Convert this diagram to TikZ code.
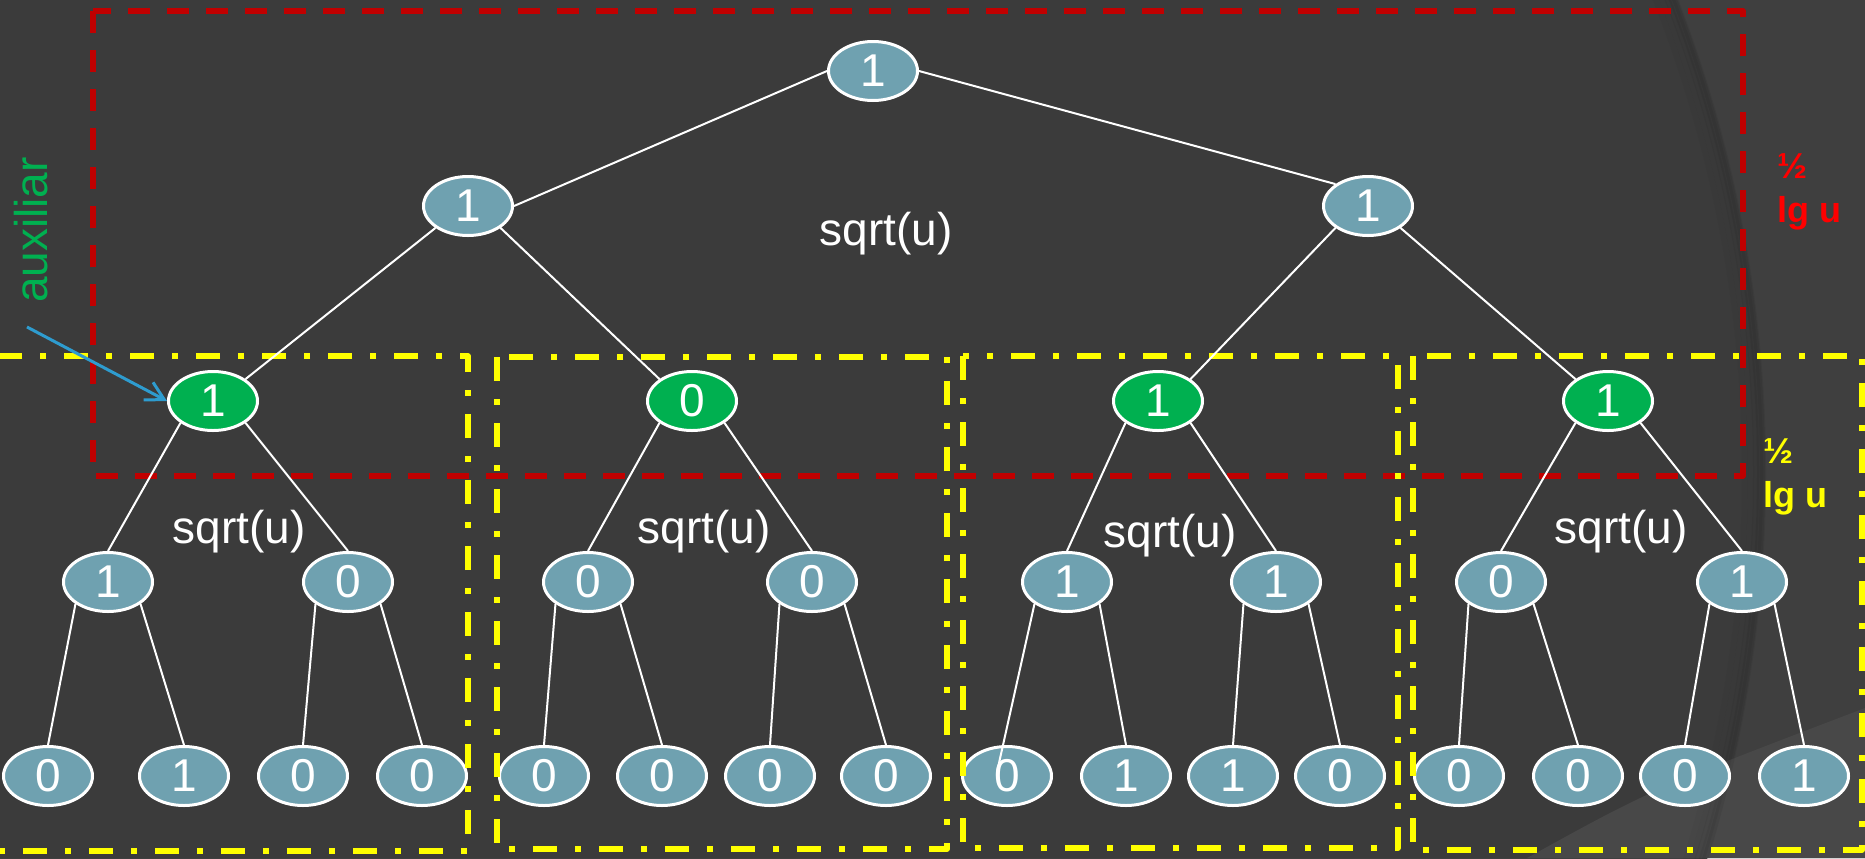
\documentclass[tikz,border=0pt]{standalone}
\usepackage{fontspec}
\setmainfont{Liberation Sans}
\usetikzlibrary{arrows.meta,calc,shapes.geometric}
\definecolor{bgmain}{HTML}{3B3B3B}
\definecolor{bgright}{HTML}{3F3F3F}
\definecolor{bgwedge}{HTML}{484848}
\definecolor{nodeblue}{HTML}{6FA1B0}
\definecolor{nodegreen}{HTML}{00B050}
\definecolor{redline}{HTML}{C00000}
\definecolor{redtext}{HTML}{FF0000}
\definecolor{yel}{HTML}{FFFF00}
\definecolor{auxblue}{HTML}{2E9CCF}
\begin{document}
\begin{tikzpicture}[x=0.5pt,y=-0.5pt,
  bit/.style={ellipse, draw=white, line width=1.5pt, fill=nodeblue,
    minimum width=44.5pt, minimum height=29.5pt, inner sep=0pt,
    text=white, font=\fontsize{23}{27}\selectfont},
  auxbit/.style={bit, fill=nodegreen},
  link/.style={draw=white, line width=1pt},
  redbox/.style={draw=redline, line width=2.9pt, dash pattern=on 11pt off 8.5pt, line join=round},
  yelbox/.style={draw=yel, line width=2.75pt, dash pattern=on 12pt off 9pt on 3pt off 9pt, line join=round},
  sqlbl/.style={text=white, font=\fontsize{23}{27}\selectfont, inner sep=0pt},
  lglbl/.style={font=\fontsize{18}{21}\bfseries\selectfont, inner sep=0pt, anchor=base west}]
\useasboundingbox (0,0) rectangle (1865,858);
% background with the theme arcs
\begin{scope}
  \clip (0,0) rectangle (1865,858);
  \fill[bgmain] (0,0) rectangle (1865,858);
  \fill[bgright, even odd rule] (0,0) rectangle (1865,858) (453.5,472.3) circle[radius=1311.5];
  \fill[bgwedge] (1527,858) .. controls (1650,790) .. (1865,708) -- (1865,858) -- cycle;
  % soft shadow along the inner side of the large arc
  \foreach \d/\o in {2/0.06,5/0.05,9/0.04,14/0.03,20/0.02}
    \draw[black, opacity=\o, line width=3pt] (453.5,472.3) circle[radius=1311.5-\d];
\end{scope}

% tree nodes
\node[bit] (r) at (873,71) {1};
\node[bit] (a) at (468,206) {1};
\node[bit] (b) at (1368,206) {1};
\node[auxbit] (g1) at (213,401) {1};
\node[auxbit] (g2) at (692,401) {0};
\node[auxbit] (g3) at (1158,401) {1};
\node[auxbit] (g4) at (1608,401) {1};
\foreach \i/\x/\v in {1/108/1,2/348/0,3/588/0,4/812/0,5/1067/1,6/1276/1,7/1501/0,8/1742/1}
  \node[bit] (m\i) at (\x,582) {\v};
\foreach \i/\x/\v in {1/48/0,2/184/1,3/303/0,4/422/0,5/544/0,6/662/0,7/770/0,8/886/0,
                      9/1007/0,10/1126/1,11/1233/1,12/1340/0,13/1459/0,14/1578/0,15/1685/0,16/1804/1}
  \node[bit] (l\i) at (\x,776) {\v};

% region boxes
\draw[redbox] (93,11) rectangle (1743,476);
\draw[yelbox] (-10,356) rectangle (468,851);
\draw[yelbox] (497,357) rectangle (947,849);
\draw[yelbox] (963,356) rectangle (1398,848);
\draw[yelbox] (1413,356) rectangle (1862,850);

% tree edges
\draw[link] (r.west) -- (a.east);
\draw[link] (r.east) -- (b.north west);
\draw[link] (a.south west) -- (g1.north east);
\draw[link] (a.south east) -- (g2.north west);
\draw[link] (b.south west) -- (g3.north east);
\draw[link] (b.south east) -- (g4.north west);
\draw[link] (g1.south west) -- (m1.north);
\draw[link] (g1.south east) -- (m2.north);
\draw[link] (g2.south west) -- (m3.north);
\draw[link] (g2.south east) -- (m4.north);
\draw[link] (g3.south west) -- (m5.north);
\draw[link] (g3.south east) -- (m6.north);
\draw[link] (g4.south west) -- (m7.north);
\draw[link] (g4.south east) -- (m8.north);
\draw[link] (m1.south west) -- (l1.north);
\draw[link] (m1.south east) -- (l2.north);
\draw[link] (m2.south west) -- (l3.north);
\draw[link] (m2.south east) -- (l4.north);
\draw[link] (m3.south west) -- (l5.north);
\draw[link] (m3.south east) -- (l6.north);
\draw[link] (m4.south west) -- (l7.north);
\draw[link] (m4.south east) -- (l8.north);
\draw[link] (m5.south west) -- ($(l9.center)+(-10,-4)$);
\draw[link] (m5.south east) -- (l10.north);
\draw[link] (m6.south west) -- (l11.north);
\draw[link] (m6.south east) -- (l12.north);
\draw[link] (m7.south west) -- (l13.north);
\draw[link] (m7.south east) -- (l14.north);
\draw[link] (m8.south west) -- (l15.north);
\draw[link] (m8.south east) -- (l16.north);

% labels
\node[sqlbl] (s0) at (886,234) {sqrt(u)};
\node[sqlbl] (s1) at (239,532) {sqrt(u)};
\node[sqlbl] (s2) at (704,532) {sqrt(u)};
\node[sqlbl] (s3) at (1170,536) {sqrt(u)};
\node[sqlbl] (s4) at (1621,532) {sqrt(u)};
\node[lglbl, text=redtext] (rh) at (1777,178) {½};
\node[lglbl, text=redtext] (rl) at (1777,222) {lg u};
\node[lglbl, text=yel] (yh) at (1763,463) {½};
\node[lglbl, text=yel] (yl) at (1763,507) {lg u};

% auxiliary pointer
\node[rotate=90, text=nodegreen, font=\fontsize{23}{27}\selectfont, inner sep=0pt] (aux) at (31,230) {auxiliar};
\coordinate (auxtail) at (27,327);
\draw[auxblue, line width=1.5pt, -{Straight Barb[length=9pt,width=10pt]}] (auxtail) -- (g1.west);
\end{tikzpicture}
\end{document}
